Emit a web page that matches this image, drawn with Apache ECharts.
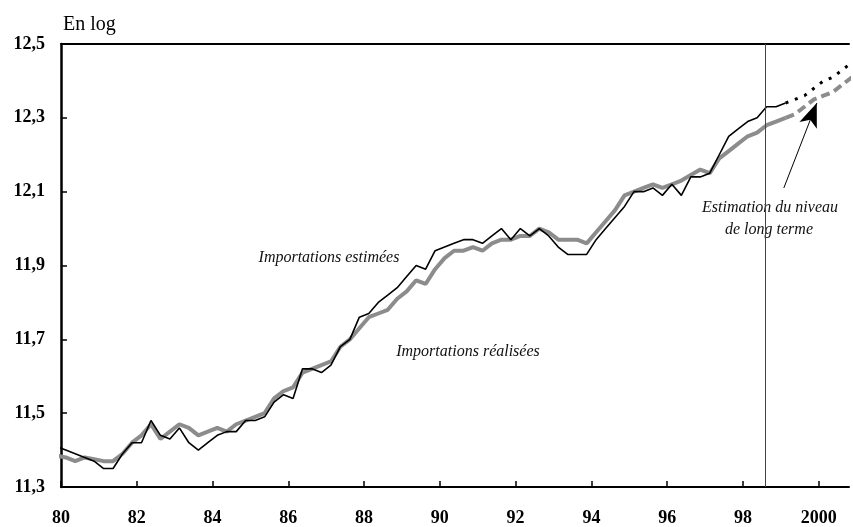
<!DOCTYPE html>
<html>
<head>
<meta charset="utf-8">
<script src="https://cdn.jsdelivr.net/npm/echarts@6/dist/echarts.min.js"></script>
<style>html,body{margin:0;padding:0;background:#fff}#c{width:853px;height:527px}</style>
</head>
<body>
<div id="c"></div>
<script>
// Quarterly series, first value = 1979 Q4, then 1980 Q1 ... 1999 Q1 (observed)
const startPeriod = 1979.875; // mid-quarter position of first observation
const importationsEstimees = [
  11.41, 11.40, 11.39, 11.38, 11.37, 11.35, 11.35, 11.39, 11.42, 11.42,
  11.48, 11.44, 11.43, 11.46, 11.42, 11.40, 11.42, 11.44, 11.45, 11.45,
  11.48, 11.48, 11.49, 11.53, 11.55, 11.54, 11.62, 11.62, 11.61, 11.63,
  11.68, 11.70, 11.76, 11.77, 11.80, 11.82, 11.84, 11.87, 11.90, 11.89,
  11.94, 11.95, 11.96, 11.97, 11.97, 11.96, 11.98, 12.00, 11.97, 12.00,
  11.98, 12.00, 11.98, 11.95, 11.93, 11.93, 11.93, 11.97, 12.00, 12.03,
  12.06, 12.10, 12.10, 12.11, 12.09, 12.12, 12.09, 12.14, 12.14, 12.15,
  12.20, 12.25, 12.27, 12.29, 12.30, 12.33, 12.33, 12.34
];
const importationsRealisees = [
  11.385, 11.38, 11.37, 11.38, 11.375, 11.37, 11.37, 11.39, 11.42, 11.44,
  11.47, 11.43, 11.45, 11.47, 11.46, 11.44, 11.45, 11.46, 11.45, 11.47,
  11.48, 11.49, 11.50, 11.54, 11.56, 11.57, 11.61, 11.62, 11.63, 11.64,
  11.68, 11.70, 11.73, 11.76, 11.77, 11.78, 11.81, 11.83, 11.86, 11.85,
  11.89, 11.92, 11.94, 11.94, 11.95, 11.94, 11.96, 11.97, 11.97, 11.98,
  11.98, 12.00, 11.99, 11.97, 11.97, 11.97, 11.96, 11.99, 12.02, 12.05,
  12.09, 12.10, 12.11, 12.12, 12.11, 12.12, 12.13, 12.145, 12.16, 12.15,
  12.19, 12.21, 12.23, 12.25, 12.26, 12.28, 12.29, 12.30
];
// Long-term level projection, 1999 Q1 ... 2000 Q4
const projectionStart = 1999.125;
const projectionEstimees = [12.34, 12.35, 12.36, 12.38, 12.40, 12.41, 12.43, 12.45];
const projectionRealisees = [12.30, 12.31, 12.33, 12.35, 12.36, 12.37, 12.39, 12.41];

const yTicks = [11.3, 11.5, 11.7, 11.9, 12.1, 12.3, 12.5];
const xTicks = [1980, 1982, 1984, 1986, 1988, 1990, 1992, 1994, 1996, 1998, 2000];
const xTickLabels = ['80','82','84','86','88','90','92','94','96','98','2000'];
const breakDate = 1998.6;
const arrowFrom = [1999.08, 12.11];
const arrowTo = [1999.95, 12.34];

const toPairs = (start, arr) => arr.map((v, i) => [start + i * 0.25, v]);

const serif = '"Liberation Serif", "DejaVu Serif", serif';
const chart = echarts.init(document.getElementById('c'), null, {renderer: 'canvas'});
chart.setOption({
  animation: false,
  backgroundColor: '#fff',
  grid: {left: 61, right: 4, top: 44, bottom: 40, containLabel: false},
  xAxis: [{
    type: 'value', min: 1980, max: 2000.8, interval: 2,
    axisLine: {lineStyle: {color: '#000', width: 2}},
    axisTick: {inside: true, length: 6, lineStyle: {color: '#000', width: 1.5}, customValues: xTicks},
    splitLine: {show: false},
    axisLabel: {
      customValues: xTicks,
      formatter: v => { const k = xTicks.indexOf(Math.round(v)); return k >= 0 ? xTickLabels[k] : ''; },
      fontFamily: serif, fontWeight: 'bold', fontSize: 18, color: '#000', margin: 22
    }
  }, {
    type: 'value', position: 'top', min: 1980, max: 2000.8,
    axisLine: {lineStyle: {color: '#000', width: 2}},
    axisTick: {show: false}, axisLabel: {show: false}, splitLine: {show: false}
  }],
  yAxis: {
    type: 'value', min: 11.3, max: 12.5, interval: 0.2,
    axisLine: {show: true, lineStyle: {color: '#000', width: 2.5}},
    axisTick: {inside: true, length: 6, lineStyle: {color: '#000', width: 1.5}, customValues: yTicks},
    splitLine: {show: false},
    axisLabel: {
      customValues: yTicks,
      formatter: v => v.toFixed(1).replace('.', ','),
      fontFamily: serif, fontWeight: 'bold', fontSize: 18, color: '#000', margin: 16
    }
  },
  series: [
    {
      name: 'Importations réalisées', type: 'line', data: toPairs(startPeriod, importationsRealisees),
      showSymbol: false, lineStyle: {color: '#8c8c8c', width: 4}, z: 2,
      markLine: {
        silent: true, symbol: ['none', 'none'], label: {show: false},
        lineStyle: {color: '#444', width: 1, type: 'solid'},
        data: [{xAxis: breakDate}]
      }
    },
    {
      name: 'Importations estimées', type: 'line', data: toPairs(startPeriod, importationsEstimees),
      showSymbol: false, lineStyle: {color: '#000', width: 1.6}, z: 3
    },
    {
      name: 'Projection réalisées', type: 'line', data: toPairs(projectionStart, projectionRealisees),
      showSymbol: false, lineStyle: {color: '#8c8c8c', width: 4, type: [9, 5]}, z: 2
    },
    {
      name: 'Projection estimées', type: 'line', data: toPairs(projectionStart, projectionEstimees),
      showSymbol: false, lineStyle: {color: '#000', width: 3, type: [3, 7]}, z: 3,
      markLine: {
        silent: true, label: {show: false},
        lineStyle: {color: '#000', width: 1, type: 'solid'},
        data: [[
          {coord: arrowFrom, symbol: 'none'},
          {coord: arrowTo, symbol: 'arrow', symbolSize: [14, 24]}
        ]]
      }
    }
  ],
  graphic: [
    {type: 'text', left: 63, top: 15, style: {text: 'En log', font: '20px ' + serif, fill: '#000'}},
    {type: 'text', x: 329, y: 258, style: {text: 'Importations estimées', font: 'italic 16px ' + serif, fill: '#111', align: 'center', verticalAlign: 'middle'}},
    {type: 'text', x: 468, y: 352, style: {text: 'Importations réalisées', font: 'italic 16px ' + serif, fill: '#111', align: 'center', verticalAlign: 'middle'}},
    {type: 'text', x: 770, y: 208, style: {text: 'Estimation du niveau', font: 'italic 16px ' + serif, fill: '#111', align: 'center', verticalAlign: 'middle'}},
    {type: 'text', x: 769, y: 230, style: {text: 'de long terme', font: 'italic 16px ' + serif, fill: '#111', align: 'center', verticalAlign: 'middle'}}
  ]
});
</script>
</body>
</html>
